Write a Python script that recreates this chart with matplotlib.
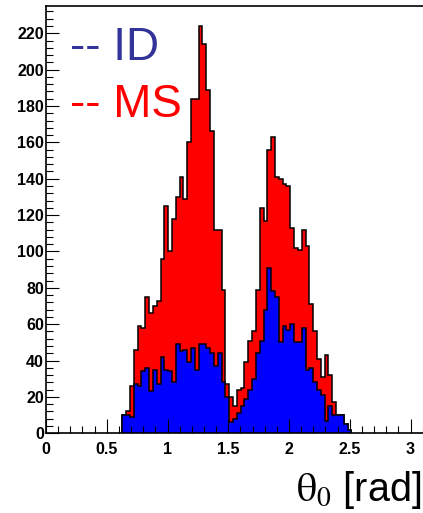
import numpy as np
import matplotlib
matplotlib.use("Agg")
import matplotlib.pyplot as plt
from matplotlib.ticker import MultipleLocator, FormatStrFormatter

# histogram binning: 100 bins over [0, pi], bins 20..79 are filled
all_edges = np.linspace(0, np.pi, 101)
first_bin = 20

# MS (red) counts per bin, starting at bin 20
ms_counts = [10, 12, 26, 46, 59, 58, 75, 66, 70, 73,
             96, 125, 100, 118, 130, 141, 129, 160, 184, 184,
             224, 214, 189, 166, 112, 112, 79, 27, 20, 15,
             24, 25, 39, 51, 56, 79, 124, 117, 156, 163,
             141, 140, 137, 136, 113, 102, 101, 112, 103, 71,
             56, 41, 31, 43, 32, 17, 10, 10, 5, 2]

# ID (blue) counts per bin, starting at bin 20
id_counts = [10, 10, 9, 27, 26, 34, 36, 23, 35, 27,
             42, 35, 34, 28, 49, 45, 46, 39, 47, 35,
             49, 49, 47, 44, 37, 44, 28, 20, 6, 8,
             11, 15, 19, 24, 30, 44, 51, 68, 91, 78,
             75, 50, 59, 57, 60, 50, 50, 58, 35, 36,
             28, 24, 21, 7, 15, 10, 10, 10, 5, 2]

edges = all_edges[first_bin:first_bin + len(ms_counts) + 1]

x_ticks = [0, 0.5, 1, 1.5, 2, 2.5, 3]
legend_labels = ["-- ID", "-- MS"]
legend_colors = ["#333399", "#ff0000"]

plt.rcParams["font.family"] = ["Liberation Sans", "DejaVu Sans"]
plt.rcParams["mathtext.fontset"] = "stix"

W, H = 423, 513
fig = plt.figure(figsize=(W / 100, H / 100), dpi=100)
ax = fig.add_axes([46 / W, (H - 433.3) / H, (np.pi * 121.5) / W, 427.3 / H])

# red drawn first, blue on top
ax.stairs(ms_counts, edges, fill=True, facecolor="#ff0000", edgecolor="black", linewidth=1.1)
ax.stairs(id_counts, edges, fill=True, facecolor="#0000ff", edgecolor="black", linewidth=1.1)

ax.set_xlim(0, np.pi)
ax.set_ylim(0, 235)

ax.set_xticks(x_ticks)
ax.xaxis.set_major_formatter(FormatStrFormatter("%g"))
ax.xaxis.set_minor_locator(MultipleLocator(0.1))
ax.yaxis.set_major_locator(MultipleLocator(20))
ax.yaxis.set_minor_locator(MultipleLocator(4))

ax.tick_params(axis="x", which="major", direction="in", length=10, width=0.8, pad=6)
ax.tick_params(axis="x", which="minor", direction="in", length=5, width=0.8)
ax.tick_params(axis="y", which="major", direction="in", length=9, width=0.8, pad=1.5)
ax.tick_params(axis="y", which="minor", direction="in", length=5, width=0.8)
for lab in ax.get_xticklabels() + ax.get_yticklabels():
    lab.set_fontweight("bold")
    lab.set_fontsize(11.5)

for side in ["left", "bottom", "top"]:
    ax.spines[side].set_linewidth(1.2)
ax.spines["right"].set_visible(False)

# legend-like labels
fig.text(69.5 / W, 1 - 60 / H, legend_labels[0], color=legend_colors[0],
         fontsize=33, va="baseline", ha="left")
fig.text(69.5 / W, 1 - 117 / H, legend_labels[1], color=legend_colors[1],
         fontsize=33, va="baseline", ha="left")

# x axis title
fig.text(421 / W, 1 - 501 / H, r"$\mathrm{\theta}_\mathrm{0}$ [rad]", fontsize=28.5,
         va="baseline", ha="right")

fig.savefig("out.png", dpi=100)
